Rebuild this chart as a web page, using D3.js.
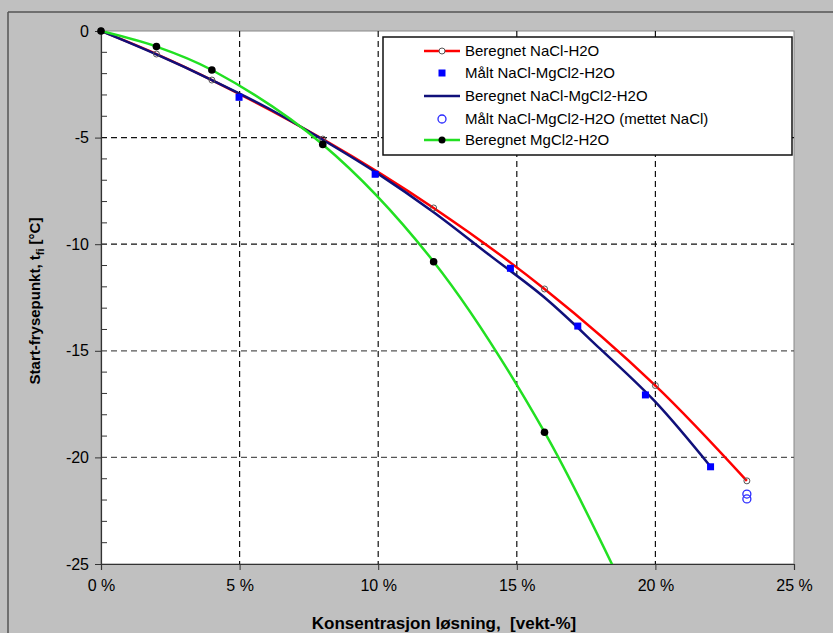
<!DOCTYPE html>
<html>
<head>
<meta charset="utf-8">
<script src="https://d3js.org/d3.v7.min.js"></script>
<style>
    body { margin: 0; background: #c0c0c0; }
    text { font-family: Arial, "Liberation Sans", sans-serif; fill: #000; }
    .narrow { font-family: "Liberation Sans Narrow", "Arial Narrow", Arial, sans-serif; }
</style>
</head>
<body>
<div id="chart"></div>
<script>
// Beregnet NaCl-H2O (red line, open circles)
var naclX = [0, 2, 4, 8, 12, 16, 20, 23.3];
var naclY = [0, -1.08, -2.3, -5.07, -8.3, -12.1, -16.63, -21.1];

// Malt NaCl-MgCl2-H2O (blue squares)
var maltX = [4.98, 9.89, 14.77, 17.2, 19.64, 21.99];
var maltY = [-3.11, -6.72, -11.13, -13.84, -17.07, -20.44];

// Beregnet NaCl-MgCl2-H2O (navy line)
var mixX = [0, 2, 4, 6, 8, 10, 12, 14, 16, 18, 20, 22];
var mixY = [0, -1.1, -2.3, -3.6, -5.1, -6.7, -8.5, -10.5, -12.5, -14.9, -17.4, -20.45];

// Malt NaCl-MgCl2-H2O (mettet NaCl) (open blue circles)
var mettetX = [23.3, 23.3];
var mettetY = [-21.72, -21.95];

// Beregnet MgCl2-H2O (green line, black dots)
var mgX = [0, 2, 4, 8, 12, 16, 20];
var mgY = [0, -0.73, -1.83, -5.32, -10.82, -18.82, -29.3];

var xTicks = [0, 5, 10, 15, 20, 25];
var yTicks = [0, -5, -10, -15, -20, -25];

var legendNames = ["Beregnet NaCl-H2O", "Målt NaCl-MgCl2-H2O", "Beregnet NaCl-MgCl2-H2O",
    "Målt NaCl-MgCl2-H2O (mettet NaCl)", "Beregnet MgCl2-H2O"];

var W = 833, H = 633;
var pLeft = 101, pRight = 794, pTop = 31, pBottom = 564;

var xs = d3.scaleLinear().domain([0, 25]).range([pLeft, pRight]);
var ys = d3.scaleLinear().domain([0, -25]).range([pTop, pBottom]);

function zip(a, b) { return a.map(function (d, i) { return [d, b[i]]; }); }

var svg = d3.select("#chart").append("svg")
    .attr("width", W).attr("height", H);

svg.append("rect").attr("width", W).attr("height", H).attr("fill", "#c0c0c0");
// outer frame
svg.append("line").attr("x1", 8).attr("x2", W).attr("y1", 12).attr("y2", 12)
    .attr("stroke", "#555").attr("stroke-width", 1.5);
svg.append("line").attr("x1", 8).attr("x2", 8).attr("y1", 12).attr("y2", H)
    .attr("stroke", "#555").attr("stroke-width", 1.5);

// plot area
svg.append("rect").attr("x", pLeft).attr("y", pTop)
    .attr("width", pRight - pLeft).attr("height", pBottom - pTop)
    .attr("fill", "#fff").attr("stroke", "#888").attr("stroke-width", 1);

svg.append("defs").append("clipPath").attr("id", "clip")
    .append("rect").attr("x", pLeft).attr("y", pTop)
    .attr("width", pRight - pLeft).attr("height", pBottom - pTop);

// grid
svg.append("g").selectAll("line")
    .data(xTicks.filter(function (d) { return d > 0 && d < 25; }))
    .enter().append("line")
    .attr("x1", function (d) { return xs(d); }).attr("x2", function (d) { return xs(d); })
    .attr("y1", pTop).attr("y2", pBottom)
    .attr("stroke", "#111").attr("stroke-dasharray", "6,4").attr("stroke-width", 1.2);
svg.append("g").selectAll("line")
    .data(yTicks.filter(function (d) { return d < 0 && d > -25; }))
    .enter().append("line")
    .attr("x1", pLeft).attr("x2", pRight)
    .attr("y1", function (d) { return ys(d); }).attr("y2", function (d) { return ys(d); })
    .attr("stroke", function (d) { return d > -12 ? "#111" : "#555"; })
    .attr("stroke-dasharray", "6,4").attr("stroke-width", 1.2);

// axes
var yAxis = svg.append("g").attr("transform", "translate(" + pLeft + ",0)")
    .call(d3.axisLeft(ys).tickValues(yTicks).tickSize(6).tickPadding(6)
        .tickFormat(function (d) { return String(d); }));
// minor ticks inside
svg.append("g").selectAll("line")
    .data(d3.range(-24, 0).filter(function (d) { return d % 5 != 0; }))
    .enter().append("line")
    .attr("x1", pLeft).attr("x2", pLeft + 6)
    .attr("y1", function (d) { return ys(d); }).attr("y2", function (d) { return ys(d); })
    .attr("stroke", "#333");
var xAxis = svg.append("g").attr("transform", "translate(0," + pBottom + ")")
    .call(d3.axisBottom(xs).tickValues(xTicks).tickSize(6).tickPadding(10)
        .tickFormat(function (d) { return d + " %"; }));
[yAxis, xAxis].forEach(function (a) {
    a.select(".domain").attr("stroke", "#333").attr("stroke-width", 1.2);
    a.selectAll(".tick line").attr("stroke", "#333");
    a.selectAll("text").style("font-size", "16px").attr("fill", "#000");
});
xAxis.selectAll("text").attr("class", "narrow").style("font-size", "16px");

// lines
var plot = svg.append("g").attr("clip-path", "url(#clip)");
function lineGen(curve) {
    return d3.line().x(function (d) { return xs(d[0]); }).y(function (d) { return ys(d[1]); })
        .curve(curve);
}
plot.append("path").datum(zip(naclX, naclY))
    .attr("d", lineGen(d3.curveCatmullRom.alpha(0.5)))
    .attr("fill", "none").attr("stroke", "#ff0000").attr("stroke-width", 2.5);
plot.append("path").datum(zip(mixX, mixY))
    .attr("d", lineGen(d3.curveCatmullRom.alpha(0.5)))
    .attr("fill", "none").attr("stroke", "#10107a").attr("stroke-width", 2.5);
plot.append("path").datum(zip(mgX, mgY))
    .attr("d", lineGen(d3.curveCatmullRom.alpha(0.5)))
    .attr("fill", "none").attr("stroke", "#22e022").attr("stroke-width", 2.5);

// markers
svg.append("g").selectAll("circle").data(zip(naclX, naclY)).enter().append("circle")
    .attr("cx", function (d) { return xs(d[0]); }).attr("cy", function (d) { return ys(d[1]); })
    .attr("r", 3).attr("fill", "none").attr("stroke", "#555").attr("stroke-width", 1);
svg.append("g").selectAll("rect").data(zip(maltX, maltY)).enter().append("rect")
    .attr("x", function (d) { return xs(d[0]) - 3.5; }).attr("y", function (d) { return ys(d[1]) - 3.5; })
    .attr("width", 7).attr("height", 7).attr("fill", "#0000ff");
svg.append("g").selectAll("ellipse").data(zip(mettetX, mettetY)).enter().append("ellipse")
    .attr("cx", function (d) { return xs(d[0]); }).attr("cy", function (d) { return ys(d[1]); })
    .attr("rx", 4).attr("ry", 4).attr("fill", "none").attr("stroke", "#2a2aff").attr("stroke-width", 1.3);
svg.append("g").selectAll("circle")
    .data(zip(mgX, mgY).filter(function (d) { return d[1] >= -25; }))
    .enter().append("circle")
    .attr("cx", function (d) { return xs(d[0]); }).attr("cy", function (d) { return ys(d[1]); })
    .attr("r", 3.8).attr("fill", "#000");

// axis titles
svg.append("text").attr("transform", "translate(40,301) rotate(-90)")
    .attr("text-anchor", "middle").style("font-size", "15px").style("font-weight", "bold")
    .call(function (t) {
        t.append("tspan").text("Start-frysepunkt, t");
        t.append("tspan").attr("dy", 4).style("font-size", "11px").text("fi");
        t.append("tspan").attr("dy", -4).text(" [°C]");
    });
svg.append("text").attr("x", 444).attr("y", 629).attr("text-anchor", "middle")
    .attr("class", "narrow").style("font-size", "17px").style("font-weight", "bold")
    .attr("xml:space", "preserve")
    .text("Konsentrasjon løsning,  [vekt-%]");

// legend
var lg = svg.append("g");
lg.append("rect").attr("x", 383).attr("y", 37).attr("width", 409).attr("height", 118)
    .attr("fill", "#fff").attr("stroke", "#111").attr("stroke-width", 1.5);
var rowY = [51, 73, 96, 119, 140];
lg.selectAll("text").data(legendNames).enter().append("text")
    .attr("x", 465).attr("y", function (d, i) { return rowY[i] + 5; })
    .style("font-size", "15px").text(function (d) { return d; });
lg.append("line").attr("x1", 424).attr("x2", 460).attr("y1", rowY[0]).attr("y2", rowY[0])
    .attr("stroke", "#ff0000").attr("stroke-width", 2.5);
lg.append("circle").attr("cx", 442).attr("cy", rowY[0]).attr("r", 3)
    .attr("fill", "#fff").attr("stroke", "#555");
lg.append("rect").attr("x", 438.5).attr("y", rowY[1] - 3.5).attr("width", 7).attr("height", 7)
    .attr("fill", "#0000ff");
lg.append("line").attr("x1", 424).attr("x2", 460).attr("y1", rowY[2]).attr("y2", rowY[2])
    .attr("stroke", "#10107a").attr("stroke-width", 2.5);
lg.append("circle").attr("cx", 442).attr("cy", rowY[3]).attr("r", 4)
    .attr("fill", "none").attr("stroke", "#2a2aff").attr("stroke-width", 1.3);
lg.append("line").attr("x1", 424).attr("x2", 460).attr("y1", rowY[4]).attr("y2", rowY[4])
    .attr("stroke", "#22e022").attr("stroke-width", 2.5);
lg.append("circle").attr("cx", 442).attr("cy", rowY[4]).attr("r", 3.5).attr("fill", "#000");
</script>
</body>
</html>
